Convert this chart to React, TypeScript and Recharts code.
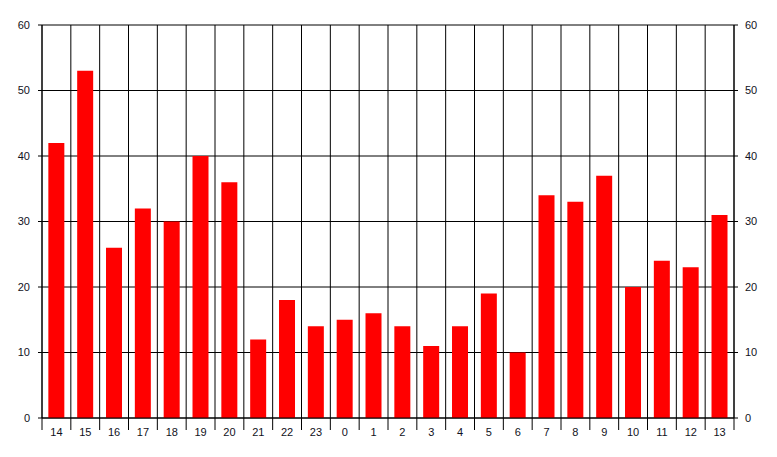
import React from 'react';
import { ComposedChart, Bar, Line, XAxis, YAxis, CartesianGrid } from 'recharts';

const hours = ['14', '15', '16', '17', '18', '19', '20', '21', '22', '23', '0', '1', '2', '3', '4', '5', '6', '7', '8', '9', '10', '11', '12', '13'];
const counts = [42, 53, 26, 32, 30, 40, 36, 12, 18, 14, 15, 16, 14, 11, 14, 19, 10, 34, 33, 37, 20, 24, 23, 31];
const yTicks = [0, 10, 20, 30, 40, 50, 60];

const data = hours.map((h, i) => ({ hour: h, count: counts[i] }));

const FONT = '"Liberation Sans", Arial, sans-serif';
const TEXT = '#111122';

const HourTick = (props: any) => {
  const { x, y, payload, index } = props;
  const half = payload && payload.offset ? payload.offset : 14.4;
  return (
    <g>
      <line x1={x - half} x2={x - half} y1={y} y2={y + 12} stroke="#000" />
      {index === hours.length - 1 && (
        <line x1={x + half} x2={x + half} y1={y} y2={y + 12} stroke="#000" />
      )}
      <text x={x} y={y + 18} textAnchor="middle" fill={TEXT} fontSize={11} fontFamily={FONT}>
        {payload.value}
      </text>
    </g>
  );
};

const ValueTick = (props: any) => {
  const { x, y, payload, textAnchor } = props;
  return (
    <text x={x} y={y} dy="0.355em" textAnchor={textAnchor} fill={TEXT} fontSize={11} fontFamily={FONT}>
      {payload.value}
    </text>
  );
};

export default function App() {
  return (
    <div style={{ position: 'absolute', left: 0, top: 0, width: 777, height: 457, background: '#fff' }}>
      <ComposedChart
        width={777}
        height={457}
        data={data}
        margin={{ top: 25, right: 13, left: 12, bottom: 0 }}
        barCategoryGap="22%"
      >
        <CartesianGrid
          yAxisId="left"
          stroke="#000"
          strokeWidth={1}
          verticalCoordinatesGenerator={({ offset }: any) =>
            Array.from({ length: hours.length + 1 }, (_, i) => offset.left + (i * offset.width) / hours.length)
          }
        />
        <XAxis
          dataKey="hour"
          interval={0}
          tickLine={false}
          tickSize={0}
          tickMargin={0}
          axisLine={{ stroke: '#000' }}
          height={39}
          tick={<HourTick />}
        />
        <YAxis
          yAxisId="left"
          orientation="left"
          domain={[0, 60]}
          ticks={yTicks}
          width={30}
          tickSize={4}
          tickMargin={8}
          axisLine={{ stroke: '#000' }}
          tickLine={{ stroke: '#000' }}
          tick={<ValueTick />}
        />
        <YAxis
          yAxisId="right"
          orientation="right"
          domain={[0, 60]}
          ticks={yTicks}
          width={30}
          tickSize={4}
          tickMargin={7}
          axisLine={{ stroke: '#000' }}
          tickLine={{ stroke: '#000' }}
          tick={<ValueTick />}
        />
        <Bar yAxisId="left" dataKey="count" fill="#ff0000" isAnimationActive={false} />
        <Line
          yAxisId="right"
          dataKey="count"
          stroke="none"
          dot={false}
          activeDot={false}
          legendType="none"
          isAnimationActive={false}
        />
      </ComposedChart>
    </div>
  );
}
